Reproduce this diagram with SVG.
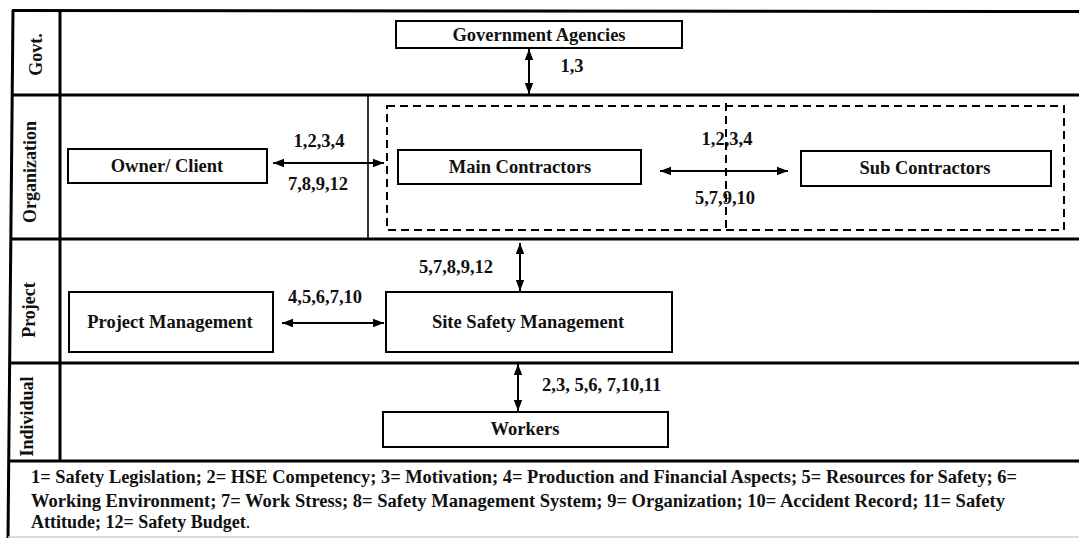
<svg xmlns="http://www.w3.org/2000/svg" width="1079" height="538" viewBox="0 0 1079 538">
  <style>
    .frame { stroke: #000; stroke-width: 3; fill: none; }
    .sep { stroke: #000; stroke-width: 1.6; fill: none; }
    .box { fill: #fff; stroke: #000; stroke-width: 2; }
    .dash { fill: none; stroke: #000; stroke-width: 2; stroke-dasharray: 8 5; }
    .conn { stroke: #000; stroke-width: 2; fill: none; marker-start: url(#ah); marker-end: url(#ah); }
  </style>
  <defs>
    <marker id="ah" markerUnits="userSpaceOnUse" markerWidth="12" markerHeight="10" refX="11" refY="5" orient="auto-start-reverse">
      <path d="M0,0.8 L11,5 L0,9.2 Z" fill="#000"/>
    </marker>
  </defs>

  <rect width="1079" height="538" fill="#fff"/>

  <!-- all lettering: bold Times-metric serif -->
  <g font-family="Liberation Serif, Times New Roman, DejaVu Serif, serif" font-weight="bold" fill="#111">

  <!-- swimlane frame -->
  <g id="lanes">
    <line class="frame" x1="13" y1="10" x2="8" y2="538"/>
    <line class="frame" x1="12" y1="10.5" x2="1079" y2="11.5"/>
    <line class="frame" x1="12" y1="95" x2="1079" y2="95"/>
    <line class="frame" x1="11" y1="239" x2="1079" y2="239"/>
    <line class="frame" x1="10" y1="363" x2="1079" y2="363"/>
    <line class="frame" x1="10" y1="461" x2="1079" y2="461"/>
    <line class="frame" x1="60" y1="10" x2="60" y2="461"/>
    <line x1="8" y1="537" x2="1079" y2="537" stroke="#cfcfcf" stroke-width="1.5"/>
    <line class="sep" x1="368" y1="95" x2="368" y2="239"/>
    <g font-size="18" text-anchor="middle">
      <text transform="translate(42,54.5) rotate(-90)">Govt.</text>
      <text transform="translate(36,172) rotate(-90)">Organization</text>
      <text transform="translate(35,310) rotate(-90)">Project</text>
      <text transform="translate(33,416.5) rotate(-90)">Individual</text>
    </g>
  </g>

  <!-- contractor grouping -->
  <g id="contractors-group">
    <rect class="dash" x="387" y="106" width="677" height="124"/>
    <line class="dash" x1="726" y1="103" x2="726" y2="228"/>
  </g>

  <g font-size="18.5" text-anchor="middle">
    <g id="government-agencies">
      <rect class="box" x="396" y="21" width="286" height="27"/>
      <text x="539" y="41">Government Agencies</text>
    </g>
    <g id="owner-client">
      <rect class="box" x="68" y="149" width="199" height="34"/>
      <text x="167" y="172">Owner/ Client</text>
    </g>
    <g id="main-contractors">
      <rect class="box" x="398" y="150" width="243" height="34"/>
      <text x="520" y="173">Main Contractors</text>
    </g>
    <g id="sub-contractors">
      <rect class="box" x="801" y="151" width="250" height="35"/>
      <text x="925" y="174">Sub Contractors</text>
    </g>
    <g id="project-management">
      <rect class="box" x="69" y="292" width="204" height="60"/>
      <text x="170" y="328">Project Management</text>
    </g>
    <g id="site-safety-management">
      <rect class="box" x="386" y="292" width="286" height="60"/>
      <text x="528" y="328">Site Safety Management</text>
    </g>
    <g id="workers">
      <rect class="box" x="383" y="412" width="285" height="35"/>
      <text x="525" y="435">Workers</text>
    </g>
  </g>

  <!-- connectors and their factor labels -->
  <g id="connectors" font-size="18.5" text-anchor="middle">
    <line class="conn" x1="529" y1="49" x2="529" y2="94"/>
    <line class="conn" x1="273" y1="163" x2="384" y2="163"/>
    <line class="conn" x1="660" y1="171" x2="788" y2="171"/>
    <line class="conn" x1="520" y1="243" x2="520" y2="291"/>
    <line class="conn" x1="282" y1="323" x2="384" y2="323"/>
    <line class="conn" x1="518" y1="364" x2="518" y2="411"/>
    <text x="572" y="72">1,3</text>
    <text x="319" y="147">1,2,3,4</text>
    <text x="318" y="190">7,8,9,12</text>
    <text x="727" y="145">1,2,3,4</text>
    <text x="725" y="204">5,7,9,10</text>
    <text x="325" y="303">4,5,6,7,10</text>
    <text x="456" y="273">5,7,8,9,12</text>
    <text x="542" y="391" text-anchor="start">2,3, 5,6, 7,10,11</text>
  </g>

  <!-- legend -->
  <g id="legend" font-size="18">
    <text x="31" y="483" textLength="986" lengthAdjust="spacingAndGlyphs">1= Safety Legislation; 2= HSE Competency; 3= Motivation; 4= Production and Financial Aspects; 5= Resources for Safety; 6=</text>
    <text x="31" y="507" textLength="974" lengthAdjust="spacingAndGlyphs">Working Environment; 7= Work Stress; 8= Safety Management System; 9= Organization; 10= Accident Record; 11= Safety</text>
    <text x="31" y="528">Attitude; 12= Safety Budget<tspan font-weight="normal">.</tspan></text>
  </g>

  </g>
</svg>
